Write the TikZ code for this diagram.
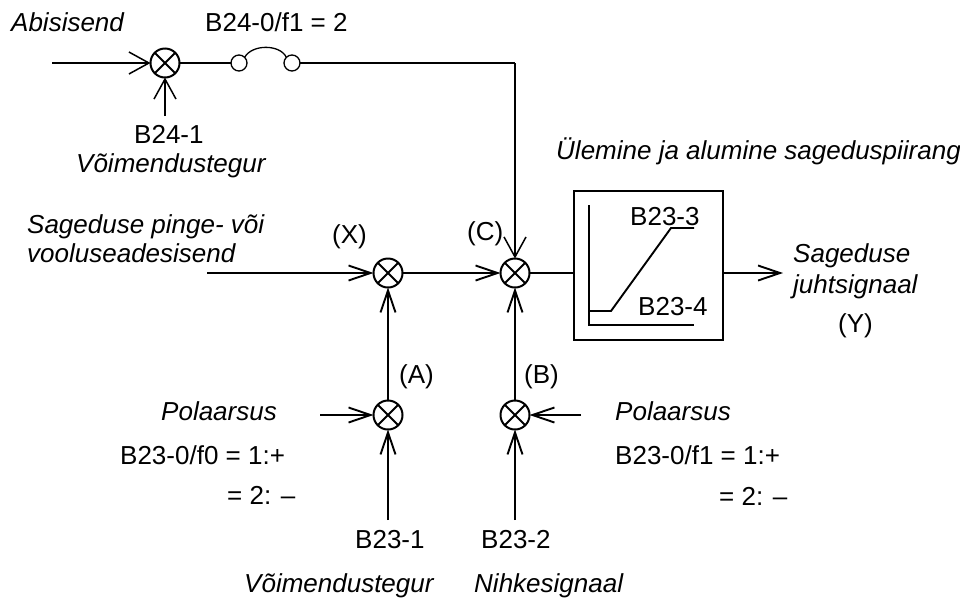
\documentclass[tikz,border=0pt]{standalone}
\usepackage{fontspec}
\setmainfont{Liberation Sans}
\usetikzlibrary{arrows.meta}
\tikzset{
  x=1pt,y=-1pt,
  wire/.style={line width=1.9pt},
  thinwire/.style={line width=1.5pt},
  arr/.style={wire,-{Straight Barb[length=22pt,width=15pt,line width=1.9pt]}},
  arrbig/.style={thinwire,-{Straight Barb[length=20pt,width=22pt,line width=1.5pt]}},
  sumnode/.style={circle,draw,line width=2pt,minimum size=29pt,inner sep=0pt,outer sep=0pt,
    path picture={\draw[line width=1.8pt] (path picture bounding box.south west)--(path picture bounding box.north east)
      (path picture bounding box.north west)--(path picture bounding box.south east);}},
  contact/.style={circle,draw,line width=1.3pt,minimum size=16pt,inner sep=0pt,outer sep=0pt},
  lab/.style={anchor=base west,inner sep=0pt,font=\fontsize{26}{30}\selectfont},
  itlab/.style={lab,font=\fontsize{26}{30}\selectfont\itshape},
}
\begin{document}
\begin{tikzpicture}
\useasboundingbox (0,0) rectangle (960,598);
% summing points
\node[sumnode] (sa) at (165,63) {};
\node[sumnode] (sx) at (388,273) {};
\node[sumnode] (sc) at (515,273) {};
\node[sumnode] (sl) at (388,415) {};
\node[sumnode] (sr) at (515,415) {};
\node[contact] (k1) at (239,63) {};
\node[contact] (k2) at (292,63) {};
\node[draw,line width=2pt,minimum width=149pt,minimum height=149pt,inner sep=0pt,outer sep=0pt] (lim) at (648.5,265.5) {};
% free ends
\coordinate (a1) at (52,63);
\coordinate (a2) at (165,116);
\coordinate (xin) at (207,273);
\coordinate (yout) at (783,273);
\coordinate (lp) at (320,415);
\coordinate (rp) at (581,415);
\coordinate (lb) at (388,520);
\coordinate (rb) at (515,520);
\coordinate (corner) at (515,63);
% connectors
\draw[arrbig] (a1) -- (sa.west);
\draw[arrbig] (a2) -- (sa.south);
\draw[thinwire] (sa.east) -- (k1.west);
\draw[line width=1.3pt] (k1.north east) .. controls (252,44) and (280,44) .. (k2.north west);
\draw[thinwire] (k2.east) -- (corner);
\draw[arrbig] (corner) -- (sc.north);
\draw[arr] (xin) -- (sx.west);
\draw[arr] (sx.east) -- (sc.west);
\draw[wire] (sc.east) -- (lim.west |- sc.east);
\draw[arr] (lim.east |- yout) -- (yout);
\draw[arr] (sl.north) -- (sx.south);
\draw[arr] (sr.north) -- (sc.south);
\draw[arr] (lp) -- (sl.west);
\draw[arr] (rp) -- (sr.east);
\draw[arr] (lb) -- (sl.south);
\draw[arr] (rb) -- (sr.south);
% limiter graph
\draw[wire] (589,205) -- (589,325) -- (694,325);
\draw[wire] (589,311) -- (611,311) -- (671,228) -- (694,228);
% labels
\node[itlab] (t1) at (11,31) {Abisisend};
\node[lab] (t2) at (205,31) {B24-0/f1 = 2};
\node[lab] (t3) at (134,143) {B24-1};
\node[itlab] (t4) at (76,172) {Võimendustegur};
\node[itlab] (t5) at (556,159) {Ülemine ja alumine sageduspiirang};
\node[itlab] (t6) at (27,233) {Sageduse pinge- või};
\node[itlab] (t7) at (27,262) {vooluseadesisend};
\node[lab] (t8) at (332,243) {(X)};
\node[lab] (t9) at (467,240) {(C)};
\node[lab] (t10) at (630,225) {B23-3};
\node[lab] (t11) at (638,315) {B23-4};
\node[itlab] (t12) at (793,262) {Sageduse};
\node[itlab] (t13) at (793,293) {juhtsignaal};
\node[lab] (t14) at (838,332) {(Y)};
\node[lab] (t15) at (399,383) {(A)};
\node[lab] (t16) at (524,383) {(B)};
\node[itlab] (t17) at (161,420) {Polaarsus};
\node[lab] (t18) at (120,464) {B23-0/f0 = 1:+};
\node[lab] (t19) at (227,504) {= 2: –};
\node[itlab] (t20) at (615,420) {Polaarsus};
\node[lab] (t21) at (615,464) {B23-0/f1 = 1:+};
\node[lab] (t22) at (719,505) {= 2: –};
\node[lab] (t23) at (355,548) {B23-1};
\node[lab] (t24) at (481,548) {B23-2};
\node[itlab] (t25) at (244,592) {Võimendustegur};
\node[itlab] (t26) at (474,592) {Nihkesignaal};
\end{tikzpicture}
\end{document}
